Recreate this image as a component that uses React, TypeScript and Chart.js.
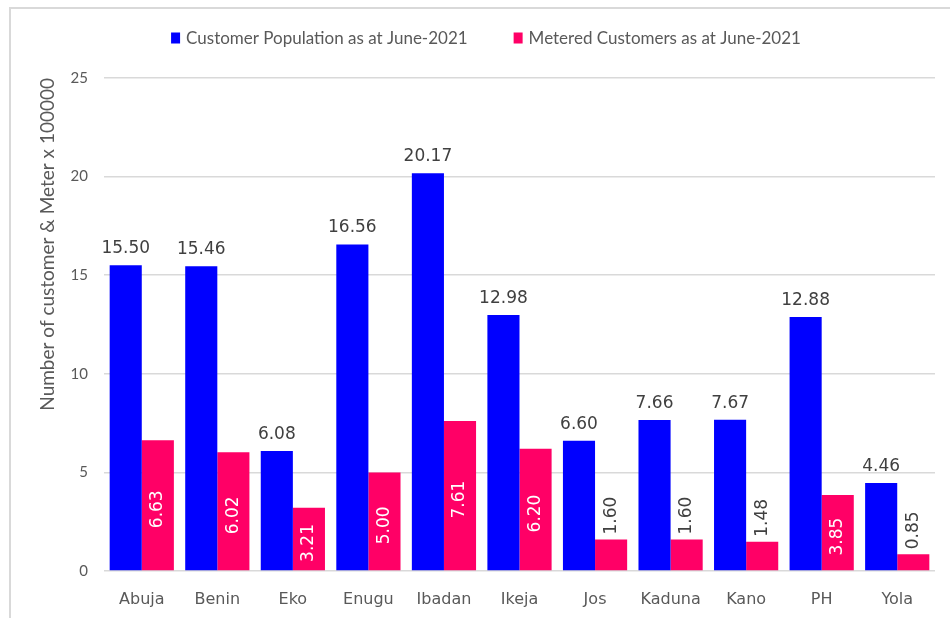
import React, { useEffect, useRef } from "react";
import { Chart, registerables } from "chart.js";

Chart.register(...registerables);

const categories = ["Abuja", "Benin", "Eko", "Enugu", "Ibadan", "Ikeja", "Jos", "Kaduna", "Kano", "PH", "Yola"];
const customerPopulation = [15.5, 15.46, 6.08, 16.56, 20.17, 12.98, 6.6, 7.66, 7.67, 12.88, 4.46];
const meteredCustomers = [6.63, 6.02, 3.21, 5.0, 7.61, 6.2, 1.6, 1.6, 1.48, 3.85, 0.85];
const seriesNames = ["Customer Population as at June-2021", "Metered Customers as at June-2021"];
const seriesColors = ["#0000FF", "#FF0066"];
const yTitle = "Number of customer & Meter x 100000";

const FONT = "Lato, 'DejaVu Sans', sans-serif";
const WIDE = "'DejaVu Sans', sans-serif";

const legendPlugin = {
  id: "customLegend",
  afterDraw(chart: any) {
    const ctx = chart.ctx;
    ctx.save();
    ctx.font = `17px ${FONT}`;
    const box = 9;
    const gapText = 6;
    const gapItem = 46;
    const items = chart.data.datasets.map((d: any) => ({ label: d.label, color: d.backgroundColor }));
    const widths = items.map((it: any) => box + gapText + ctx.measureText(it.label).width);
    const total = widths.reduce((a: number, b: number) => a + b, 0) + gapItem * (items.length - 1);
    let x = 486 - total / 2;
    const cy = 38;
    items.forEach((it: any, i: number) => {
      ctx.fillStyle = it.color;
      ctx.fillRect(x, cy - 5.5, box, 11);
      ctx.fillStyle = "#595959";
      ctx.textBaseline = "middle";
      ctx.textAlign = "left";
      ctx.fillText(it.label, x + box + gapText, cy + 1);
      x += widths[i] + gapItem;
    });
    ctx.restore();
  },
};

const valueLabelPlugin = {
  id: "valueLabels",
  afterDatasetsDraw(chart: any) {
    const ctx = chart.ctx;
    ctx.save();
    ctx.font = `17px ${WIDE}`;
    chart.data.datasets.forEach((ds: any, di: number) => {
      const meta = chart.getDatasetMeta(di);
      meta.data.forEach((el: any, i: number) => {
        const v = ds.data[i];
        const txt = v.toFixed(2);
        if (di === 0) {
          ctx.fillStyle = "#404040";
          ctx.textAlign = "center";
          ctx.textBaseline = "alphabetic";
          ctx.fillText(txt, el.x, el.y - 12);
        } else {
          ctx.save();
          const inside = v >= 3;
          ctx.translate(el.x, inside ? (el.y + el.base) / 2 + 4 : el.y - 5);
          ctx.rotate(-Math.PI / 2);
          ctx.textBaseline = "middle";
          if (inside) {
            ctx.fillStyle = "#FFFFFF";
            ctx.textAlign = "center";
          } else {
            ctx.fillStyle = "#404040";
            ctx.textAlign = "left";
          }
          ctx.fillText(txt, 0, 0);
          ctx.restore();
        }
      });
    });
    ctx.restore();
  },
};

export default function App() {
  const ref = useRef<HTMLCanvasElement | null>(null);
  useEffect(() => {
    if (!ref.current) return;
    const chart = new Chart(ref.current, {
      type: "bar",
      data: {
        labels: categories,
        datasets: [
          { label: seriesNames[0], data: customerPopulation, backgroundColor: seriesColors[0], barPercentage: 1, categoryPercentage: 0.85 },
          { label: seriesNames[1], data: meteredCustomers, backgroundColor: seriesColors[1], barPercentage: 1, categoryPercentage: 0.85 },
        ],
      },
      options: {
        responsive: false,
        animation: false,
        layout: { padding: { left: 26, right: 15, top: 78, bottom: 0 } },
        plugins: { legend: { display: false }, tooltip: { enabled: false } },
        scales: {
          x: {
            grid: { display: false },
            border: { display: false },
            ticks: { color: "#595959", font: { family: WIDE, size: 16 }, padding: 11 },
            afterFit: (s: any) => { s.height = 47; },
          },
          y: {
            min: 0,
            max: 25,
            ticks: { stepSize: 5, color: "#595959", font: { family: FONT, size: 15 }, padding: 16 },
            grid: { color: "#d9d9d9", lineWidth: 1.5, drawTicks: false },
            border: { display: false },
            title: { display: true, text: yTitle, align: "end", color: "#595959", font: { family: FONT, size: 19 }, padding: { top: 10, bottom: 0 } },
            afterFit: (s: any) => { s.width = 78; },
          },
        },
      },
      plugins: [legendPlugin, valueLabelPlugin],
    });
    return () => chart.destroy();
  }, []);
  return (
    <div style={{ position: "fixed", left: 0, top: 0, width: 950, height: 618, background: "#fff", overflow: "hidden" }}>
      <div style={{ position: "absolute", left: 9, top: 7, width: 1200, height: 1000, borderLeft: "2px solid #d9d9d9", borderTop: "2px solid #d9d9d9" }} />
      <canvas ref={ref} width={950} height={618} style={{ position: "absolute", left: 0, top: 0, width: 950, height: 618 }} />
    </div>
  );
}
